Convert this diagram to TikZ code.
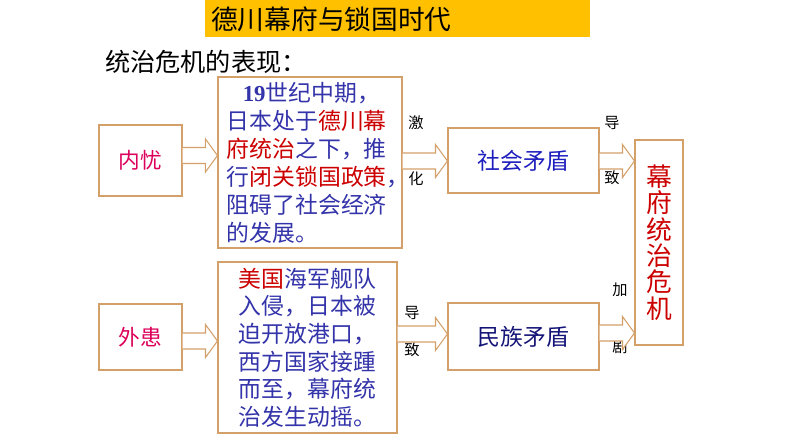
\documentclass[tikz,border=0pt]{standalone}
\usepackage{fontspec}
\setmainfont{Noto Sans CJK SC}
\newfontfamily\numfont{Liberation Serif}
\usetikzlibrary{calc}
\definecolor{boxline}{RGB}{212,160,106}
\definecolor{titlebar}{RGB}{255,192,0}
\definecolor{textblue}{RGB}{51,51,170}
\definecolor{keyred}{RGB}{204,0,0}
\definecolor{causered}{RGB}{220,0,90}
\definecolor{socialblue}{RGB}{30,30,190}
\definecolor{nationblue}{RGB}{20,20,120}
\newcommand{\fs}[2]{\fontsize{#1}{#2}\selectfont}
\newcommand{\blockarrow}[3]{%
  \draw[flow] ($(#1.east |- 0,#3)+(0,-8)$) -- ($(#2.west |- 0,#3)+(-12,-8)$) -- ($(#2.west |- 0,#3)+(-12,-16.5)$)
    -- (#2.west |- 0,#3) -- ($(#2.west |- 0,#3)+(-12,16.5)$) -- ($(#2.west |- 0,#3)+(-12,8)$) -- ($(#1.east |- 0,#3)+(0,8)$);}
\begin{document}
\begin{tikzpicture}[x=0.03cm,y=-0.03cm,
  box/.style={draw=boxline,line width=0.9pt,inner sep=0pt},
  flow/.style={draw=boxline,fill=white,line width=0.9pt},
  tag/.style={font=\fs{13}{15},inner sep=0pt}]
  \useasboundingbox (0,0) rectangle (794,447);
  \fill[titlebar] (205,0) rectangle (590,37);
  \node[anchor=west,inner sep=0pt,font=\fs{22.8}{26}] (title) at (211,19) {德川幕府与锁国时代};
  \node[anchor=west,inner sep=0pt,font=\fs{21.5}{24}] (subtitle) at (105,62) {统治危机的表现：};
  \node[box,minimum width=2.49cm,minimum height=2.13cm,text=causered,font=\fs{18.5}{22}] (inner) at (140.5,160.5) {内忧};
  \node[box,minimum width=5.52cm,minimum height=5.13cm,text width=142pt,align=left,text=textblue,font=\fs{19.5}{23.9}] (desc1) at (310,162.5)
    {\hspace*{0.7em}{\numfont\bfseries 19}世纪中期，\\日本处于\textcolor{keyred}{德川幕}\\\textcolor{keyred}{府统治}之下，推\\行\textcolor{keyred}{闭关锁国政策}，\\阻碍了社会经济\\的发展。};
  \node[box,minimum width=4.53cm,minimum height=1.95cm,text=socialblue,font=\fs{19.5}{22}] (social) at (523.5,160.5) {社会矛盾};
  \node[box,minimum width=1.44cm,minimum height=6.15cm,align=center,text=keyred,font=\fs{22}{22.45}] (crisis) at (659,242.5) {幕\\府\\统\\治\\危\\机};
  \node[box,minimum width=2.49cm,minimum height=1.98cm,text=causered,font=\fs{18.5}{22}] (outer) at (140.5,337) {外患};
  \node[box,minimum width=5.37cm,minimum height=5.13cm,align=left,text=textblue,font=\fs{19.5}{23.6}] (desc2) at (307.5,347.5)
    {\textcolor{keyred}{美国}海军舰队\\入侵，日本被\\迫开放港口，\\西方国家接踵\\而至，幕府统\\治发生动摇。};
  \node[box,minimum width=4.53cm,minimum height=2.01cm,text=nationblue,font=\fs{19.5}{22}] (nation) at (523.5,336.5) {民族矛盾};
  \node[tag] (ji) at (416,123) {激};
  \node[tag] (hua) at (416,179) {化};
  \node[tag] (dao1) at (612,123) {导};
  \node[tag] (zhi1) at (612,178) {致};
  \node[tag] (dao2) at (412,313) {导};
  \node[tag] (zhi2) at (412,350) {致};
  \node[tag] (jia) at (620,290) {加};
  \node[tag] (ju) at (620,347) {剧};
  \blockarrow{inner}{desc1}{155.5}
  \blockarrow{desc1}{social}{161}
  \blockarrow{social}{crisis}{161}
  \blockarrow{outer}{desc2}{341}
  \blockarrow{desc2}{nation}{334}
  \blockarrow{nation}{crisis}{333}
\end{tikzpicture}
\end{document}
